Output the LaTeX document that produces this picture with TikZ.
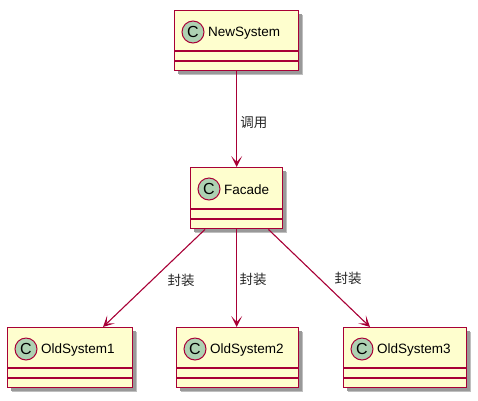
\documentclass[tikz,border=0pt]{standalone}
\usepackage{fontspec}
\setmainfont{Liberation Sans}
\newfontfamily\cjk{Noto Sans CJK SC}
\usetikzlibrary{arrows.meta,calc}
\definecolor{umlfill}{HTML}{FEFECE}
\definecolor{umlline}{HTML}{A80036}
\definecolor{circfill}{HTML}{ADD1B2}
\tikzset{
  conn/.style={draw=umlline, line width=1.1pt, -{Stealth[length=11pt,width=11pt,inset=6pt]}},
  lbl/.style={font=\cjk\fontsize{13.5}{14}\selectfont, text=black!85, inner sep=0pt},
  cname/.style={font=\fontsize{13.5}{14}\selectfont, text=black, inner sep=0pt, anchor=west},
}
% \umlclass{name}{left}{top}{right}{bottom}{text}
\newcommand{\umlclass}[6]{%
  \fill[black!25] (#2+5,#3+5) rectangle (#4+5,#5+5);
  \fill[black!40] (#2+4,#3+4) rectangle (#4+3.5,#5+3.5);
  \node[draw=umlline, fill=umlfill, line width=1.4pt, minimum width=#4-#2, minimum height=#5-#3, inner sep=0pt, anchor=north west] (#1) at (#2,#3) {};
  \draw[umlline, line width=1.2pt] (#2,#5-19) -- (#4,#5-19);
  \draw[umlline, line width=1.2pt] (#2,#5-9) -- (#4,#5-9);
  \node[circle, draw=umlline, fill=circfill, line width=1pt, minimum size=22, inner sep=0pt, font=\fontsize{16}{16}\selectfont] (#1c) at (#2+19,#3+22) {C};
  \node[cname] (#1t) at (#2+34,#3+23) {#6};
}
\begin{document}
\begin{tikzpicture}[x=1pt,y=-1pt]
\useasboundingbox (0,0) rectangle (478,400);
\umlclass{ns}{174}{10}{298}{70}{NewSystem}
\umlclass{fa}{190}{167}{282}{228}{Facade}
\umlclass{o1}{7}{327}{132}{387}{OldSystem1}
\umlclass{o2}{176}{327}{298}{387}{OldSystem2}
\umlclass{o3}{343}{327}{466}{387}{OldSystem3}
\draw[conn] (ns.south) -- (fa.north) node[pos=0.53, lbl, anchor=west, xshift=3pt] (l0) {调用};
\coordinate (f1) at ($(fa.south west)+(15,0)$);
\coordinate (f3) at ($(fa.south east)+(-15,0)$);
\draw[conn] (f1) -- ($(o1.north west)+(96,0)$);
\draw[conn] (fa.south) -- (o2.north -| fa.south);
\draw[conn] (f3) -- ($(o3.north west)+(27,0)$);
\node[lbl] (l1) at (181,280) {封装};
\node[lbl] (l2) at (253,279) {封装};
\node[lbl] (l3) at (348,278) {封装};
\end{tikzpicture}
\end{document}
